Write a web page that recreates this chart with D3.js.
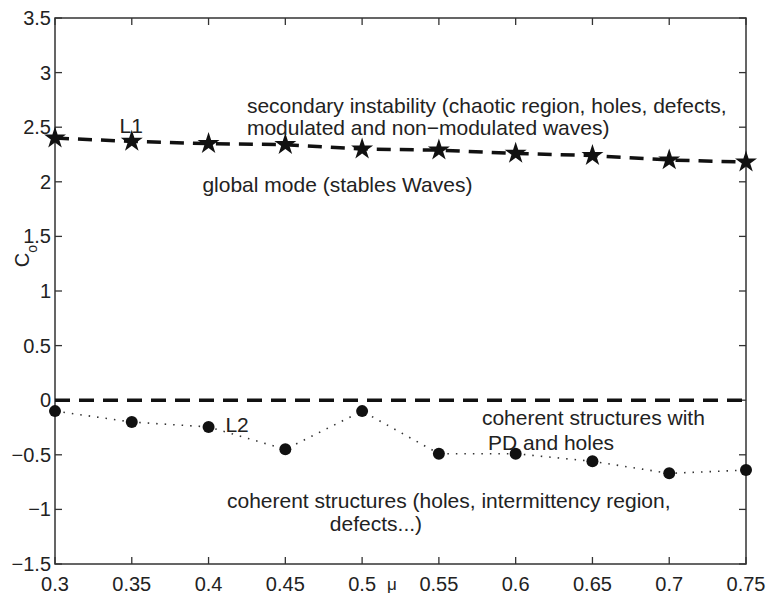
<!DOCTYPE html>
<html>
<head>
<meta charset="utf-8">
<script src="https://cdn.jsdelivr.net/npm/d3@7"></script>
<style>
	body { margin: 0; background: #fff; }
	svg { display: block; font-family: "Liberation Sans", Arial, sans-serif; }
	.tick-label { font-size: 20px; fill: #222; }
	.note { font-size: 21px; fill: #222; }
</style>
</head>
<body>
<div id="chart"></div>
<script>
// values
const mu = [0.3, 0.35, 0.4, 0.45, 0.5, 0.55, 0.6, 0.65, 0.7, 0.75]
const l1 = [2.40, 2.37, 2.35, 2.34, 2.30, 2.29, 2.26, 2.24, 2.20, 2.18]
const l2 = [-0.10, -0.20, -0.245, -0.45, -0.10, -0.49, -0.49, -0.56, -0.67, -0.64]
const zeroLine = [0, 0]
const xTickLabels = ['0.3', '0.35', '0.4', '0.45', '0.5', '0.55', '0.6', '0.65', '0.7', '0.75']
const yTicks = [-1.5, -1, -0.5, 0, 0.5, 1, 1.5, 2, 2.5, 3, 3.5]
const yTickLabels = ['\u22121.5', '\u22121', '\u22120.5', '0', '0.5', '1', '1.5', '2', '2.5', '3', '3.5']

// annotations, placed in data coordinates like matlab's text()
const notes = [
	{ t: 'secondary instability (chaotic region, holes, defects,', x: 0.425, y: 2.63 },
	{ t: 'modulated and non\u2212modulated waves)', x: 0.425, y: 2.43 },
	{ t: 'L1', x: 0.342, y: 2.445 },
	{ t: 'global mode (stables Waves)', x: 0.396, y: 1.905 },
	{ t: 'L2', x: 0.411, y: -0.293 },
	{ t: 'coherent structures with', x: 0.578, y: -0.229 },
	{ t: 'PD and holes', x: 0.582, y: -0.458 },
	{ t: 'coherent structures (holes, intermittency region,', x: 0.412, y: -0.989 },
	{ t: 'defects...)', x: 0.479, y: -1.2 }
]

const W = 767, H = 597
const m = { top: 18, right: 21, bottom: 33, left: 55 }

const $svg = d3.select('#chart').append('svg')
	.attr('width', W)
	.attr('height', H)

$svg.append('rect').attr('width', W).attr('height', H).attr('fill', '#fff')

let x = d3.scaleLinear()
	.domain([0.3, 0.75])
	.range([m.left, W - m.right])

let y = d3.scaleLinear()
	.domain([-1.5, 3.5])
	.range([H - m.bottom, m.top])

const $g = $svg.append('g')
const tk = 7

// box + inward ticks on all sides
$g.append('rect')
	.attr('x', x(0.3)).attr('y', y(3.5))
	.attr('width', x(0.75) - x(0.3)).attr('height', y(-1.5) - y(3.5))
	.attr('fill', 'none').attr('stroke', '#333').attr('stroke-width', 1.5)

const $ticks = $g.append('g').attr('stroke', '#333').attr('stroke-width', 1.3)
mu.forEach(v => {
	$ticks.append('line').attr('x1', x(v)).attr('x2', x(v)).attr('y1', y(-1.5)).attr('y2', y(-1.5) - tk)
	$ticks.append('line').attr('x1', x(v)).attr('x2', x(v)).attr('y1', y(3.5)).attr('y2', y(3.5) + tk)
})
yTicks.forEach(v => {
	$ticks.append('line').attr('x1', x(0.3)).attr('x2', x(0.3) + tk).attr('y1', y(v)).attr('y2', y(v))
	$ticks.append('line').attr('x1', x(0.75)).attr('x2', x(0.75) - tk).attr('y1', y(v)).attr('y2', y(v))
})

// tick labels
$g.selectAll('.xl')
	.data(mu)
	.enter().append('text')
	.attr('class', 'tick-label')
	.attr('x', d => x(d))
	.attr('y', y(-1.5) + 27)
	.attr('text-anchor', 'middle')
	.text((d, i) => xTickLabels[i])

$g.selectAll('.yl')
	.data(yTicks)
	.enter().append('text')
	.attr('class', 'tick-label')
	.attr('x', x(0.3) - 4)
	.attr('y', d => y(d) + 7)
	.attr('text-anchor', 'end')
	.text((d, i) => yTickLabels[i])

// axis labels
$g.append('text')
	.attr('x', 392).attr('y', 590)
	.attr('text-anchor', 'middle')
	.attr('font-size', '17px')
	.attr('fill', '#222')
	.text('\u03bc')

const $yl = $g.append('text')
	.attr('class', 'tick-label')
	.attr('transform', `translate(29, ${y(1.32)}) rotate(-90)`)
	.attr('text-anchor', 'middle')
$yl.append('tspan').text('C')
$yl.append('tspan').attr('baseline-shift', 'sub').attr('font-size', '14px').text('o')

// zero line
$g.append('path')
	.datum(zeroLine)
	.attr('d', d3.line().x((d, i) => x(i ? 0.75 : 0.3)).y(d => y(d)))
	.attr('fill', 'none').attr('stroke', '#111')
	.attr('stroke-width', 3.5).attr('stroke-dasharray', '15,9')

// L1 dashed with stars
const line = d3.line().x((d, i) => x(mu[i])).y(d => y(d))

$g.append('path')
	.datum(l1)
	.attr('d', line)
	.attr('fill', 'none').attr('stroke', '#111')
	.attr('stroke-width', 3.5).attr('stroke-dasharray', '14,9')

$g.selectAll('.star')
	.data(l1)
	.enter().append('path')
	.attr('d', d3.symbol().type(d3.symbolStar).size(150))
	.attr('transform', (d, i) => `translate(${x(mu[i])}, ${y(d)})`)
	.attr('fill', '#111')

// L2 dotted with dots
$g.append('path')
	.datum(l2)
	.attr('d', line)
	.attr('fill', 'none').attr('stroke', '#333')
	.attr('stroke-width', 1.6).attr('stroke-dasharray', '1.5,7')

$g.selectAll('.dot')
	.data(l2)
	.enter().append('circle')
	.attr('cx', (d, i) => x(mu[i]))
	.attr('cy', d => y(d))
	.attr('r', 6)
	.attr('fill', '#111')

// notes
$g.selectAll('.note')
	.data(notes)
	.enter().append('text')
	.attr('class', 'note')
	.attr('x', d => x(d.x))
	.attr('y', d => y(d.y))
	.text(d => d.t)
</script>
</body>
</html>
